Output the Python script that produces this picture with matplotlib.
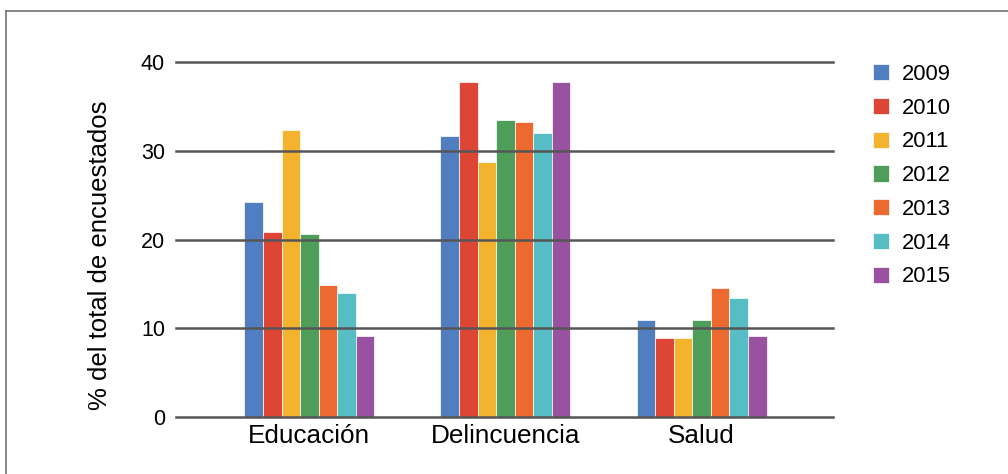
import numpy as np
import matplotlib.pyplot as plt
from matplotlib.lines import Line2D

plt.rcParams['font.family'] = ['Liberation Sans', 'DejaVu Sans']

categories = ['Educación', 'Delincuencia', 'Salud']
years = ['2009', '2010', '2011', '2012', '2013', '2014', '2015']
values = {
    '2009': [24.2, 31.7, 10.9],
    '2010': [20.8, 37.7, 8.9],
    '2011': [32.3, 28.7, 8.9],
    '2012': [20.6, 33.5, 10.9],
    '2013': [14.9, 33.2, 14.5],
    '2014': [14.0, 32.0, 13.4],
    '2015': [9.1, 37.7, 9.1],
}
colors = ['#517EC0', '#DD4535', '#F3B32E', '#4E9E5A', '#EC6930', '#57BDC5', '#98529F']

fig = plt.figure(figsize=(10.08, 4.74), dpi=100)
ax = fig.add_axes([176 / 1008, 1 - 417 / 474, 657 / 1008, 355 / 474])

x = np.arange(len(categories))
w = 0.0947
for i, yr in enumerate(years):
    ax.bar(x + (i - 3) * w, values[yr], width=w, color=colors[i],
           edgecolor='white', linewidth=0.5, label=yr, zorder=2)

for v in [0, 10, 20, 30, 40]:
    ax.axhline(v, color='#555555', lw=1.8, zorder=3, clip_on=False)

ax.set_xlim(-0.68, 2.67)
ax.set_ylim(0, 40)
ax.set_yticks([0, 10, 20, 30, 40])
ax.set_xticks(x)
ax.set_xticklabels(categories, fontsize=18.8)
ax.tick_params(axis='y', length=0, pad=8, labelsize=15.5)
ax.tick_params(axis='x', length=0, pad=5)
for s in ax.spines.values():
    s.set_visible(False)
ax.patch.set_visible(False)

fig.text(100 / 1008, 1 - 255 / 474, '% del total de encuestados', rotation=90,
         ha='center', va='center', fontsize=18.5)

fig.legend(loc='upper left', bbox_to_anchor=(873 / 1008, 1 - 64 / 474),
           frameon=False, fontsize=15.8, handlelength=0.75, handleheight=0.75,
           handletextpad=0.55, labelspacing=0.58, borderpad=0, borderaxespad=0)

# outer frame
fig.add_artist(Line2D([6 / 1008, 6 / 1008], [0, 1 - 11 / 474], color='#666666', lw=1.1))
fig.add_artist(Line2D([6 / 1008, 1], [1 - 11 / 474, 1 - 11 / 474], color='#666666', lw=1.1))

fig.savefig('out.png', dpi=100)
